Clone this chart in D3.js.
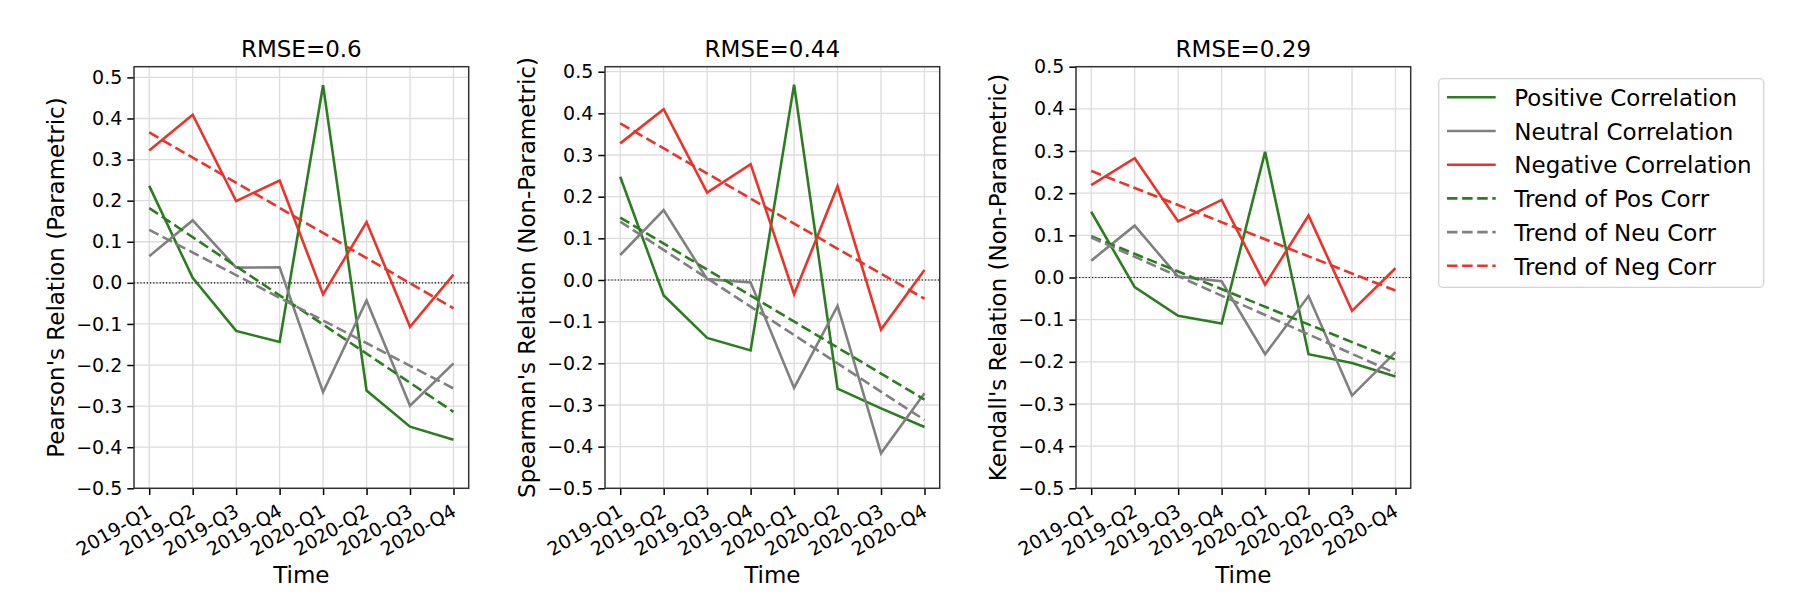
<!DOCTYPE html>
<html>
<head>
<meta charset="utf-8">
<script src="https://cdn.jsdelivr.net/npm/d3@7"></script>
<style>
  body { margin: 0; background: #fff; }
  svg { font-family: "DejaVu Sans", sans-serif; }
</style>
</head>
<body>
<svg id="chart"></svg>
<script>
// quarters on the x axis
const quarters = ['2019-Q1', '2019-Q2', '2019-Q3', '2019-Q4', '2020-Q1', '2020-Q2', '2020-Q3', '2020-Q4'];

// Pearson panel
const pearsonPos = [0.236, 0.012, -0.117, -0.144, 0.481, -0.262, -0.350, -0.382];
const pearsonNeu = [0.065, 0.152, 0.037, 0.038, -0.266, -0.043, -0.299, -0.196];
const pearsonNeg = [0.322, 0.409, 0.199, 0.249, -0.028, 0.148, -0.107, 0.020];
const pearsonTrendPos = [0.182, -0.314];
const pearsonTrendNeu = [0.129, -0.257];
const pearsonTrendNeg = [0.366, -0.062];

// Spearman panel
const spearmanPos = [0.248, -0.037, -0.139, -0.169, 0.469, -0.261, -0.308, -0.353];
const spearmanNeu = [0.060, 0.168, 0.002, -0.006, -0.259, -0.062, -0.416, -0.272];
const spearmanNeg = [0.328, 0.410, 0.210, 0.278, -0.034, 0.225, -0.119, 0.024];
const spearmanTrendPos = [0.150, -0.287];
const spearmanTrendNeu = [0.140, -0.336];
const spearmanTrendNeg = [0.376, -0.045];

// Kendall panel
const kendallPos = [0.156, -0.023, -0.091, -0.109, 0.298, -0.182, -0.203, -0.235];
const kendallNeu = [0.040, 0.123, 0.002, -0.009, -0.182, -0.044, -0.280, -0.177];
const kendallNeg = [0.219, 0.283, 0.133, 0.184, -0.017, 0.147, -0.079, 0.022];
const kendallTrendPos = [0.098, -0.195];
const kendallTrendNeu = [0.095, -0.227];
const kendallTrendNeg = [0.253, -0.031];

const titles = ['RMSE=0.6', 'RMSE=0.44', 'RMSE=0.29'];
const yLabels = ["Pearson's Relation (Parametric)", "Spearman's Relation (Non-Parametric)", "Kendall's Relation (Non-Parametric)"];
const yTops = [0.526, 0.512, 0.5];
const yTicks = [-0.5, -0.4, -0.3, -0.2, -0.1, 0.0, 0.1, 0.2, 0.3, 0.4, 0.5];
const legendLabels = ['Positive Correlation', 'Neutral Correlation', 'Negative Correlation',
  'Trend of Pos Corr', 'Trend of Neu Corr', 'Trend of Neg Corr'];

const panels = [
  { solid: [pearsonPos, pearsonNeu, pearsonNeg], trend: [pearsonTrendPos, pearsonTrendNeu, pearsonTrendNeg] },
  { solid: [spearmanPos, spearmanNeu, spearmanNeg], trend: [spearmanTrendPos, spearmanTrendNeu, spearmanTrendNeg] },
  { solid: [kendallPos, kendallNeu, kendallNeg], trend: [kendallTrendPos, kendallTrendNeu, kendallTrendNeg] }
];

const colors = ['#2b7d20', '#808080', '#ea3329'];
const W = 1794, H = 607;
const panelLefts = [134, 605, 1076];
const pw = 334.7, plotTop = 66.7, plotBottom = 488.3;
const dash = '10.5,4.6';

const svg = d3.select('#chart').attr('width', W).attr('height', H);

panels.forEach((p, k) => {
  const x0 = panelLefts[k];
  const x = d3.scaleLinear().domain([-0.35, 7.35]).range([x0, x0 + pw]);
  const y = d3.scaleLinear().domain([-0.5, yTops[k]]).range([plotBottom, plotTop]);
  const g = svg.append('g');

  // grid
  g.selectAll('.vgrid').data(quarters).enter().append('line')
    .attr('x1', (d, i) => x(i)).attr('x2', (d, i) => x(i))
    .attr('y1', plotTop).attr('y2', plotBottom)
    .attr('stroke', '#dcdcdc').attr('stroke-width', 1.3);
  g.selectAll('.hgrid').data(yTicks).enter().append('line')
    .attr('x1', x0).attr('x2', x0 + pw)
    .attr('y1', d => y(d)).attr('y2', d => y(d))
    .attr('stroke', '#dcdcdc').attr('stroke-width', 1.3);

  // zero line
  g.append('line')
    .attr('x1', x0).attr('x2', x0 + pw)
    .attr('y1', y(0)).attr('y2', y(0))
    .attr('stroke', '#000').attr('stroke-width', 1.1)
    .attr('stroke-dasharray', '1.2,2');

  const line = d3.line().x((d, i) => x(i)).y(d => y(d));
  p.solid.forEach((s, j) => {
    g.append('path').datum(s).attr('d', line)
      .attr('fill', 'none').attr('stroke', colors[j]).attr('stroke-width', 2.6);
  });
  p.trend.forEach((t, j) => {
    g.append('line')
      .attr('x1', x(0)).attr('y1', y(t[0]))
      .attr('x2', x(7)).attr('y2', y(t[1]))
      .attr('stroke', colors[j]).attr('stroke-width', 2.6)
      .attr('stroke-dasharray', dash);
  });

  // axes
  const xAxis = d3.axisBottom(x).tickValues(d3.range(quarters.length))
    .tickFormat('').tickSize(6.7).tickSizeOuter(0);
  g.append('g').attr('transform', `translate(0,${plotBottom})`).call(xAxis)
    .call(a => a.select('.domain').remove())
    .call(a => a.selectAll('.tick line').attr('stroke', '#000').attr('stroke-width', 1.5));

  const yAxis = d3.axisLeft(y).tickValues(yTicks).tickFormat(d3.format('.1f'))
    .tickSize(6.7).tickPadding(5).tickSizeOuter(0);
  g.append('g').attr('transform', `translate(${x0},0)`).call(yAxis)
    .call(a => a.select('.domain').remove())
    .call(a => a.selectAll('.tick line').attr('stroke', '#000').attr('stroke-width', 1.5))
    .call(a => a.selectAll('.tick text').attr('font-size', '19px').attr('fill', '#000')
      .attr('font-family', 'DejaVu Sans'));

  // x tick labels rotated
  g.selectAll('.xlab').data(quarters).enter().append('text')
    .attr('transform', (d, i) => `translate(${x(i) - 3},503) rotate(-30)`)
    .attr('y', 13.9)
    .attr('text-anchor', 'end')
    .attr('font-size', '19px')
    .text(d => d);

  // frame
  g.append('rect').attr('x', x0).attr('y', plotTop).attr('width', pw).attr('height', plotBottom - plotTop)
    .attr('fill', 'none').attr('stroke', '#333').attr('stroke-width', 1.5);

  // title and labels
  g.append('text').attr('x', x0 + pw / 2).attr('y', 57.3)
    .attr('text-anchor', 'middle').attr('font-size', '23px').text(titles[k]);
  g.append('text').attr('x', x0 + pw / 2).attr('y', 582.7)
    .attr('text-anchor', 'middle').attr('font-size', '23px').text('Time');
  g.append('text')
    .attr('transform', `translate(${x0 - 70},${(plotTop + plotBottom) / 2}) rotate(-90)`)
    .attr('text-anchor', 'middle').attr('font-size', '23px').text(yLabels[k]);
});

// legend
const lg = svg.append('g');
lg.append('rect').attr('x', 1438.7).attr('y', 78.7).attr('width', 325).attr('height', 208.6)
  .attr('rx', 4).attr('fill', 'white').attr('fill-opacity', 0.8)
  .attr('stroke', '#d4d4d4').attr('stroke-width', 1.3);
legendLabels.forEach((lab, i) => {
  const cy = 97.3 + i * 33.7;
  lg.append('line').attr('x1', 1447).attr('x2', 1495.7).attr('y1', cy).attr('y2', cy)
    .attr('stroke', colors[i % 3]).attr('stroke-width', 2.6)
    .attr('stroke-dasharray', i >= 3 ? dash : null);
  lg.append('text').attr('x', 1514.3).attr('y', cy + 8.7).attr('font-size', '23px').text(lab);
});
</script>
</body>
</html>
